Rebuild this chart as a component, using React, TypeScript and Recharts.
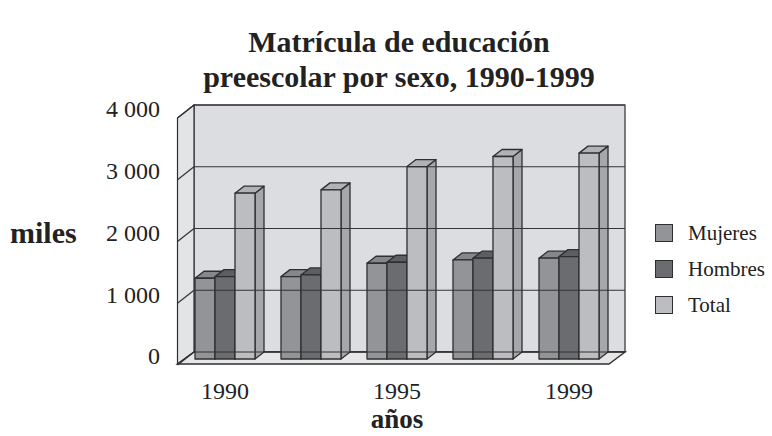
import React from 'react';
import { BarChart, Bar, XAxis, YAxis, ReferenceArea, ReferenceLine, Legend, Label } from 'recharts';

const yearLabels = ['1990', '', '1995', '', '1999'];
const mujeres = [1308, 1334, 1551, 1604, 1632];
const hombres = [1334, 1361, 1567, 1632, 1658];
const total = [2686, 2739, 3117, 3279, 3334];
const yTicks = [0, 1000, 2000, 3000, 4000];
const seriesNames = ['Mujeres', 'Hombres', 'Total'];

const data = yearLabels.map((label, i) => ({
  idx: i,
  label,
  Mujeres: mujeres[i],
  Hombres: hombres[i],
  Total: total[i],
}));

const FONT = "'Liberation Serif', 'Times New Roman', serif";
const EDGE = '#2f2f2f';
const DX = 9;
const DY = 7;

const palette: Record<string, { front: string; top: string; side: string }> = {
  Mujeres: { front: '#939498', top: '#86878b', side: '#7d7e82' },
  Hombres: { front: '#6b6c70', top: '#5d5e62', side: '#58595d' },
  Total: { front: '#bcbdc1', top: '#b1b2b6', side: '#a6a7ab' },
};

const make3D = (name: string) => (props: any) => {
  const { x, y, width: w, height: h } = props;
  if (w == null || h == null) return <g />;
  const c = palette[name];
  return (
    <g stroke={EDGE} strokeWidth={1.3} strokeLinejoin="round">
      <polygon
        points={`${x + w},${y} ${x + w + DX},${y - DY} ${x + w + DX},${y + h - DY} ${x + w},${y + h}`}
        fill={c.side}
      />
      <polygon
        points={`${x},${y} ${x + DX},${y - DY} ${x + w + DX},${y - DY} ${x + w},${y}`}
        fill={c.top}
      />
      <rect x={x} y={y} width={w} height={h} fill={c.front} />
    </g>
  );
};

const Walls = (props: any) => {
  const { x, y, width: w, height: h } = props;
  const bx1 = x + 12;
  const bx2 = x + w + 13;
  const by1 = y - 7;
  const by2 = y + h - 7;
  const fx1 = x - 4.5;
  const fx2 = x + w - 3;
  const fy = y + h + 5;
  return (
    <g>
      <rect x={bx1} y={by1} width={bx2 - bx1} height={by2 - by1} fill="#dcdde0" stroke={EDGE} strokeWidth={1.2} />
      <polygon
        points={`${fx1},${y + 6} ${bx1},${by1} ${bx1},${by2} ${fx1},${fy}`}
        fill="#e3e4e6"
        stroke={EDGE}
        strokeWidth={1.2}
      />
      <polygon
        points={`${fx1},${fy} ${bx1},${by2} ${bx2},${by2} ${fx2},${fy}`}
        fill="#e6e6e8"
        stroke={EDGE}
        strokeWidth={1.4}
      />
    </g>
  );
};

const GridLine = (props: any) => {
  const { x1, y1, x2 } = props;
  const left = Math.min(x1, x2);
  const right = Math.max(x1, x2);
  const yb = y1 - 7;
  return (
    <g stroke="#333" strokeWidth={1.2}>
      <line x1={left + 12} y1={yb} x2={right + 13} y2={yb} />
      <line x1={left - 4.5} y1={y1 + 6} x2={left + 12} y2={yb} />
    </g>
  );
};

const fmt = (v: number) => {
  const s = String(v);
  return s.length > 3 ? `${s.slice(0, s.length - 3)} ${s.slice(-3)}` : s;
};

const YTick = (props: any) => {
  const { x, y, payload } = props;
  return (
    <text x={x - 22} y={y - 3} dy="0.35em" textAnchor="end" fontFamily={FONT} fontSize={24} fill="#222">
      {fmt(payload.value)}
    </text>
  );
};

const XTick = (props: any) => {
  const { x, y, payload } = props;
  return (
    <text x={x} y={y + 40} textAnchor="middle" fontFamily={FONT} fontSize={24} fill="#222">
      {yearLabels[payload.value]}
    </text>
  );
};

const LegendContent = () => (
  <div style={{ fontFamily: FONT, fontSize: 21, color: '#222' }}>
    {seriesNames.map((n) => (
      <div key={n} style={{ display: 'flex', alignItems: 'center', height: 36 }}>
        <div
          style={{
            width: 16,
            height: 16,
            background: palette[n].front,
            border: `1px solid ${EDGE}`,
            marginRight: 15,
          }}
        />
        <span>{n}</span>
      </div>
    ))}
  </div>
);

export default function App() {
  return (
    <div style={{ position: 'absolute', left: 0, top: 0, width: 772, height: 436, background: '#fff' }}>
      <svg width={772} height={100} style={{ position: 'absolute', left: 0, top: 0 }}>
        <text x={399} y={52} textAnchor="middle" fontFamily={FONT} fontWeight="bold" fontSize={30} fill="#222">
          Matrícula de educación
        </text>
        <text x={399} y={87} textAnchor="middle" fontFamily={FONT} fontWeight="bold" fontSize={30} fill="#222">
          preescolar por sexo, 1990-1999
        </text>
      </svg>
      <div style={{ position: 'absolute', left: 0, top: 0 }}>
        <BarChart
          width={772}
          height={436}
          data={data}
          margin={{ top: 112, right: 160, bottom: 47, left: 122 }}
          barCategoryGap={13}
          barGap={0}
        >
          <XAxis
            dataKey="idx"
            type="category"
            axisLine={false}
            tickLine={false}
            tickSize={0}
            tickMargin={0}
            height={30}
            interval={0}
            tick={<XTick />}
          >
            <Label
              content={(p: any) => {
                const vb = p.viewBox || {};
                return (
                  <text
                    x={vb.x + vb.width / 2}
                    y={vb.y + 69}
                    textAnchor="middle"
                    fontFamily={FONT}
                    fontWeight="bold"
                    fontSize={27}
                    fill="#222"
                  >
                    años
                  </text>
                );
              }}
            />
          </XAxis>
          <YAxis
            domain={[0, 4000]}
            ticks={yTicks}
            axisLine={false}
            tickLine={false}
            tickSize={0}
            tickMargin={0}
            width={60}
            tick={<YTick />}
          >
            <Label
              content={(p: any) => {
                const vb = p.viewBox || {};
                return (
                  <text
                    x={vb.x - 112}
                    y={vb.y + vb.height / 2 + 7}
                    textAnchor="start"
                    fontFamily={FONT}
                    fontWeight="bold"
                    fontSize={30}
                    fill="#222"
                  >
                    miles
                  </text>
                );
              }}
            />
          </YAxis>
          <ReferenceArea y1={0} y2={4000} shape={<Walls />} ifOverflow="extendDomain" />
          {yTicks.map((t) => (
            <ReferenceLine key={t} y={t} shape={<GridLine />} />
          ))}
          <Legend
            layout="vertical"
            align="center"
            verticalAlign="middle"
            content={<LegendContent />}
            wrapperStyle={{ left: 655, top: 215, width: 120 }}
          />
          {seriesNames.map((n) => (
            <Bar key={n} dataKey={n} isAnimationActive={false} shape={make3D(n)} />
          ))}
        </BarChart>
      </div>
    </div>
  );
}
